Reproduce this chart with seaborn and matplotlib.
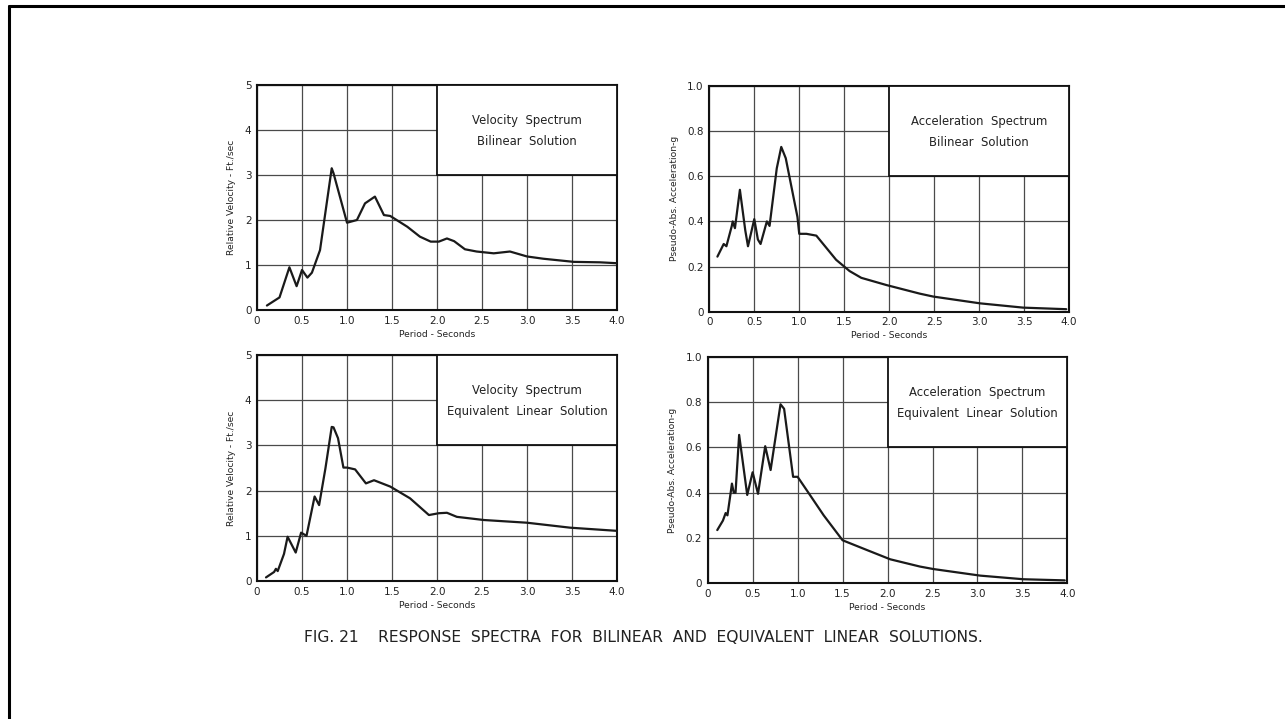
import numpy as np
import pandas as pd
import matplotlib
matplotlib.use("Agg")
import matplotlib.pyplot as plt
from matplotlib.patches import Rectangle
import seaborn as sns

# ---------------- data ----------------
vel_bil_T = [0.11, 0.25, 0.36, 0.44, 0.50, 0.56, 0.61, 0.70, 0.83, 0.85, 1.00, 1.11, 1.20, 1.31,
             1.41, 1.48, 1.67, 1.81, 1.93, 2.02, 2.11, 2.19, 2.31, 2.44, 2.63, 2.81, 3.00, 3.18,
             3.52, 3.81, 4.00]
vel_bil_V = [0.10, 0.28, 0.95, 0.53, 0.89, 0.72, 0.83, 1.33, 3.15, 3.04, 1.94, 2.00, 2.37, 2.52,
             2.11, 2.09, 1.85, 1.63, 1.52, 1.52, 1.59, 1.53, 1.35, 1.30, 1.26, 1.30, 1.19, 1.14,
             1.07, 1.06, 1.04]

acc_bil_T = [0.09, 0.16, 0.19, 0.25, 0.26, 0.285, 0.34, 0.40, 0.43, 0.50, 0.54, 0.57, 0.64, 0.67,
             0.75, 0.80, 0.85, 0.98, 1.00, 1.08, 1.19, 1.41, 1.56, 1.69, 1.97, 2.34, 2.49, 3.01,
             3.49, 3.97]
acc_bil_A = [0.244, 0.30, 0.29, 0.38, 0.40, 0.37, 0.54, 0.36, 0.29, 0.41, 0.32, 0.30, 0.40, 0.38,
             0.635, 0.73, 0.68, 0.42, 0.345, 0.345, 0.337, 0.23, 0.18, 0.15, 0.118, 0.08, 0.067,
             0.037, 0.018, 0.011]

vel_eq_T = [0.10, 0.19, 0.21, 0.23, 0.30, 0.34, 0.43, 0.49, 0.55, 0.64, 0.69, 0.76, 0.83, 0.85,
            0.90, 0.96, 1.00, 1.09, 1.21, 1.30, 1.48, 1.70, 1.91, 2.02, 2.11, 2.22, 2.52, 3.00,
            3.48, 4.00]
vel_eq_V = [0.08, 0.20, 0.27, 0.22, 0.60, 0.98, 0.63, 1.07, 1.00, 1.87, 1.68, 2.49, 3.41, 3.40,
            3.16, 2.51, 2.51, 2.47, 2.16, 2.23, 2.09, 1.83, 1.46, 1.50, 1.51, 1.42, 1.35, 1.29,
            1.18, 1.11]

acc_eq_T = [0.107, 0.17, 0.20, 0.22, 0.256, 0.27, 0.29, 0.31, 0.35, 0.44, 0.50, 0.56, 0.64, 0.70,
            0.81, 0.85, 0.95, 1.00, 1.12, 1.29, 1.50, 1.77, 2.03, 2.36, 2.51, 3.03, 3.51, 3.97]
acc_eq_A = [0.235, 0.277, 0.31, 0.30, 0.40, 0.44, 0.40, 0.40, 0.655, 0.39, 0.49, 0.395, 0.605, 0.50,
            0.79, 0.77, 0.47, 0.47, 0.40, 0.30, 0.19, 0.147, 0.106, 0.074, 0.063, 0.034, 0.018,
            0.013]

x_ticks = [0, 0.5, 1.0, 1.5, 2.0, 2.5, 3.0, 3.5, 4.0]
x_tick_labels = ["0", "0.5", "1.0", "1.5", "2.0", "2.5", "3.0", "3.5", "4.0"]
vel_ticks = [0, 1, 2, 3, 4, 5]
vel_tick_labels = ["0", "1", "2", "3", "4", "5"]
acc_ticks = [0, 0.2, 0.4, 0.6, 0.8, 1.0]
acc_tick_labels = ["0", "0.2", "0.4", "0.6", "0.8", "1.0"]

titles = [("Velocity  Spectrum", "Bilinear  Solution"),
          ("Acceleration  Spectrum", "Bilinear  Solution"),
          ("Velocity  Spectrum", "Equivalent  Linear  Solution"),
          ("Acceleration  Spectrum", "Equivalent  Linear  Solution")]
xlabel = "Period - Seconds"
vel_ylabel = "Relative Velocity - Ft./sec"
acc_ylabel = "Pseudo-Abs. Acceleration-g"
caption = "FIG. 21    RESPONSE  SPECTRA  FOR  BILINEAR  AND  EQUIVALENT  LINEAR  SOLUTIONS."

# ---------------- figure ----------------
sns.set_style("white")
plt.rcParams['font.family'] = ['DejaVu Sans']

fig = plt.figure(figsize=(12.85, 7.19), dpi=100)
fig.patch.set_facecolor("white")

positions = [
    [0.2000, 0.5688, 0.2802, 0.3130],
    [0.5520, 0.5665, 0.2799, 0.3139],
    [0.2000, 0.1919, 0.2802, 0.3143],
    [0.5507, 0.1887, 0.2800, 0.3152],
]
series = [
    (vel_bil_T, vel_bil_V, "vel"),
    (acc_bil_T, acc_bil_A, "acc"),
    (vel_eq_T, vel_eq_V, "vel"),
    (acc_eq_T, acc_eq_A, "acc"),
]

for pos, (T, Y, kind), (t1, t2) in zip(positions, series, titles):
    ax = fig.add_axes(pos)
    df = pd.DataFrame({"T": T, "Y": Y})
    sns.lineplot(data=df, x="T", y="Y", ax=ax, color="#1a1a1a", linewidth=1.6,
                 sort=False, estimator=None, zorder=4)
    ax.set_xlim(0, 4.0)
    if kind == "vel":
        ymax = 5.0
        yt, ytl, yl = vel_ticks, vel_tick_labels, vel_ylabel
    else:
        ymax = 1.0
        yt, ytl, yl = acc_ticks, acc_tick_labels, acc_ylabel
    ax.set_ylim(0, ymax)
    ax.set_xticks(x_ticks)
    ax.set_xticklabels(x_tick_labels, fontsize=7.5)
    ax.set_yticks(yt)
    ax.set_yticklabels(ytl, fontsize=7.5)
    ax.tick_params(axis="both", length=0, pad=4, colors="#222222")
    ax.grid(True, color="#4a4a4a", linewidth=0.9, zorder=1)
    ax.set_axisbelow(True)
    for s in ax.spines.values():
        s.set_linewidth(1.5)
        s.set_color("#111111")
    ax.set_xlabel(xlabel, fontsize=6.6, labelpad=3, color="#222222")
    ax.set_ylabel(yl, fontsize=6.6, labelpad=6, color="#222222")

    # title box in the upper right quadrant
    box = Rectangle((2.0, 0.6 * ymax), 2.0, 0.4 * ymax, facecolor="white",
                    edgecolor="#111111", linewidth=1.3, zorder=3)
    ax.add_patch(box)
    ax.text(3.0, 0.843 * ymax, t1, ha="center", va="center", fontsize=8.4,
            color="#222222", zorder=5)
    ax.text(3.0, 0.75 * ymax, t2, ha="center", va="center", fontsize=8.4,
            color="#222222", zorder=5)

fig.text(0.5008, 0.114, caption, ha="center", va="center", fontsize=11.2, color="#222222")

# scanned-page frame (top and left edges)
fig.add_artist(plt.Line2D([9 / 1285, 9 / 1285], [0, 1 - 6 / 719], color="black",
                          linewidth=2.2, transform=fig.transFigure))
fig.add_artist(plt.Line2D([9 / 1285, 1], [1 - 6 / 719, 1 - 6 / 719], color="black",
                          linewidth=2.2, transform=fig.transFigure))

fig.savefig("out.png", dpi=100, facecolor="white")
